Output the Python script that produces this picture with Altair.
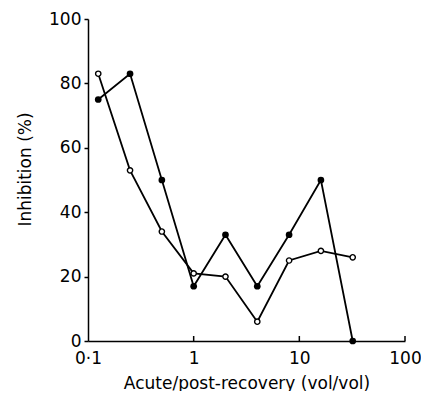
import altair as alt
import pandas as pd

ratio = [0.125, 0.25, 0.5, 1, 2, 4, 8, 16, 32]
filled_vals = [75, 83, 50, 17, 33, 17, 33, 50, 0]
open_vals = [83, 53, 34, 21, 20, 6, 25, 28, 26]
x_ticks = [0.1, 1, 10, 100]
x_tick_labels = ["0·1", "1", "10", "100"]
y_ticks = [0, 20, 40, 60, 80, 100]

FONT = "DejaVu Sans"

df_f = pd.DataFrame({"ratio": ratio, "inhibition": filled_vals})
df_o = pd.DataFrame({"ratio": ratio, "inhibition": open_vals})
df_ticks = pd.DataFrame({"ratio": x_ticks[1:]})

label_expr = "datum.label"
for v, lab in zip(x_ticks, x_tick_labels):
    label_expr = f"(abs(datum.value - {v}) < 1e-9) ? '{lab}' : ({label_expr})"

xs = alt.Scale(type="log", domain=[0.1, 100])
ys = alt.Scale(domain=[0, 100])

x_enc = alt.X("ratio:Q", scale=xs, axis=alt.Axis(
    values=x_ticks, labelExpr=label_expr, ticks=False, tickSize=0, grid=False,
    title="Acute/post-recovery (vol/vol)", labelPadding=9, titlePadding=9,
    labelFontSize=17, titleFontSize=17, labelFont=FONT, titleFont=FONT,
    labelColor="black", titleColor="black", titleFontWeight="normal",
    domainColor="black", domainWidth=1.5, labelFlush=False))
y_enc = alt.Y("inhibition:Q", scale=ys, axis=alt.Axis(
    values=y_ticks, grid=False, tickSize=4, tickColor="black", tickWidth=1.5,
    title="Inhibition (%)", labelPadding=3, titlePadding=14, titleY=150,
    labelFontSize=17, titleFontSize=17, labelFont=FONT, titleFont=FONT,
    labelColor="black", titleColor="black", titleFontWeight="normal",
    domainColor="black", domainWidth=1.5))

line_f = alt.Chart(df_f).mark_line(color="black", strokeWidth=1.8).encode(x=x_enc, y=y_enc)
line_o = alt.Chart(df_o).mark_line(color="black", strokeWidth=1.8).encode(x=x_enc, y=y_enc)
pts_f = alt.Chart(df_f).mark_point(shape="circle", filled=True, color="black", size=45, opacity=1).encode(x=x_enc, y=y_enc)
pts_o = alt.Chart(df_o).mark_point(shape="circle", filled=True, fill="white", stroke="black", strokeWidth=1.4, size=28, opacity=1).encode(x=x_enc, y=y_enc)
ticks = alt.Chart(df_ticks).mark_rule(color="black", strokeWidth=1.5).encode(
    x=alt.X("ratio:Q", scale=xs), y=alt.value(322), y2=alt.value(317))

chart = alt.layer(line_f, line_o, ticks, pts_f, pts_o).properties(
    width=317, height=322, background="white",
    autosize=alt.AutoSizeParams(type="none"),
    padding={"left": 80, "top": 11, "right": 16, "bottom": 50},
).configure_view(stroke=None)

chart.save("out.html", embed_options={"renderer": "svg", "actions": False})
